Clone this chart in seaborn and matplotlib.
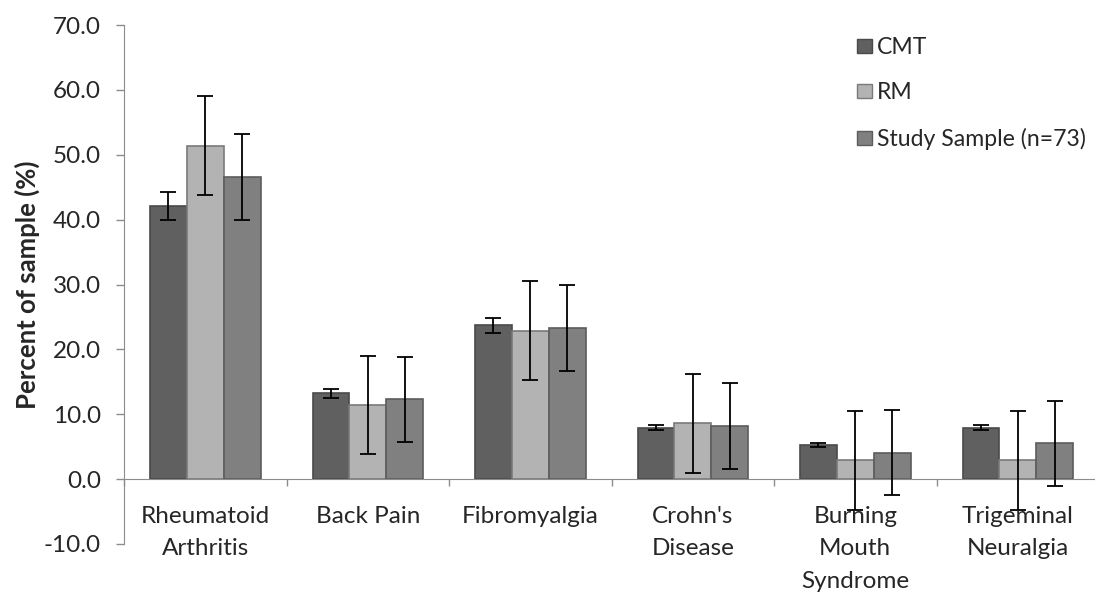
import matplotlib
matplotlib.use("Agg")
import matplotlib.pyplot as plt
from matplotlib.ticker import FixedLocator, NullFormatter, MultipleLocator, FormatStrFormatter
from matplotlib.patches import Patch
import seaborn as sns
import pandas as pd

categories = ["Rheumatoid\nArthritis", "Back Pain", "Fibromyalgia", "Crohn's\nDisease",
              "Burning\nMouth\nSyndrome", "Trigeminal\nNeuralgia"]
groups = ["CMT", "RM", "Study Sample (n=73)"]
cmt = [42.1, 13.2, 23.7, 7.9, 5.3, 7.9]
cmt_err = [2.1, 0.7, 1.2, 0.4, 0.3, 0.4]
rm = [51.4, 11.4, 22.9, 8.6, 2.9, 2.9]
rm_err = [7.6, 7.6, 7.6, 7.6, 7.6, 7.6]
study = [46.6, 12.3, 23.3, 8.2, 4.1, 5.5]
study_err = [6.6, 6.6, 6.6, 6.6, 6.6, 6.6]

colors = ["#606060", "#b3b3b3", "#808080"]
edges = ["#4a4a4a", "#7a7a7a", "#5c5c5c"]

values = [cmt, rm, study]
errors = [cmt_err, rm_err, study_err]

rows = []
for g, vals in zip(groups, values):
    for c, v in zip(categories, vals):
        rows.append({"category": c, "group": g, "value": v})
df = pd.DataFrame(rows)

sns.set_style("white")
plt.rcParams["font.family"] = ["Lato", "DejaVu Sans"]

FS = 17.5

fig = plt.figure(figsize=(10.95, 5.92), dpi=100)
ax = fig.add_axes([124 / 1095, 1 - 544 / 592, (1099 - 124) / 1095, (544 - 25) / 592])

sns.barplot(data=df, x="category", y="value", hue="group", order=categories,
            hue_order=groups, palette=colors, errorbar=None, width=0.68,
            linewidth=1.2, ax=ax, legend=False)

for cont, ec, errs in zip(ax.containers, edges, errors):
    xs = []
    ys = []
    for bar in cont:
        bar.set_edgecolor(ec)
        xs.append(bar.get_x() + bar.get_width() / 2)
        ys.append(bar.get_height())
    ax.errorbar(xs, ys, yerr=errs, fmt="none", ecolor="black", elinewidth=1.3,
                capsize=6, capthick=1.3, zorder=5, clip_on=False)

ax.set_xlim(-0.5, 5.5)
ax.set_ylim(-10, 70)
ax.yaxis.set_major_locator(MultipleLocator(10))
ax.yaxis.set_major_formatter(FormatStrFormatter("%.1f"))

for side in ["top", "right"]:
    ax.spines[side].set_visible(False)
ax.spines["left"].set_color("#8c8c8c")
ax.spines["bottom"].set_color("#8c8c8c")
ax.spines["bottom"].set_position(("data", 0))

ax.tick_params(axis="y", which="major", direction="out", length=6, width=1,
               color="#8c8c8c", labelsize=FS, pad=10.5, left=True)
ax.xaxis.set_minor_locator(FixedLocator([i - 0.5 for i in range(len(categories) + 1)]))
ax.xaxis.set_minor_formatter(NullFormatter())
ax.tick_params(axis="x", which="minor", direction="out", length=5, width=1,
               color="#8c8c8c", bottom=True)
ax.tick_params(axis="x", which="major", length=0, labelsize=FS, pad=19)
for lbl in ax.get_xticklabels():
    lbl.set_linespacing(1.7)
    lbl.set_verticalalignment("top")

ax.set_xlabel("")
ax.set_ylabel("Percent of sample (%)", fontsize=18.5, fontweight="bold", labelpad=3)

handles = [Patch(facecolor=c, edgecolor=e, linewidth=1.0) for c, e in zip(colors, edges)]
fig.legend(handles, groups, loc="upper left", bbox_to_anchor=(848 / 1095, 1 - 28 / 592),
           frameon=False, fontsize=16.6, handlelength=0.62, handleheight=0.55,
           handletextpad=0.25, labelspacing=1.05, borderaxespad=0)

fig.savefig("out.png", dpi=100)
